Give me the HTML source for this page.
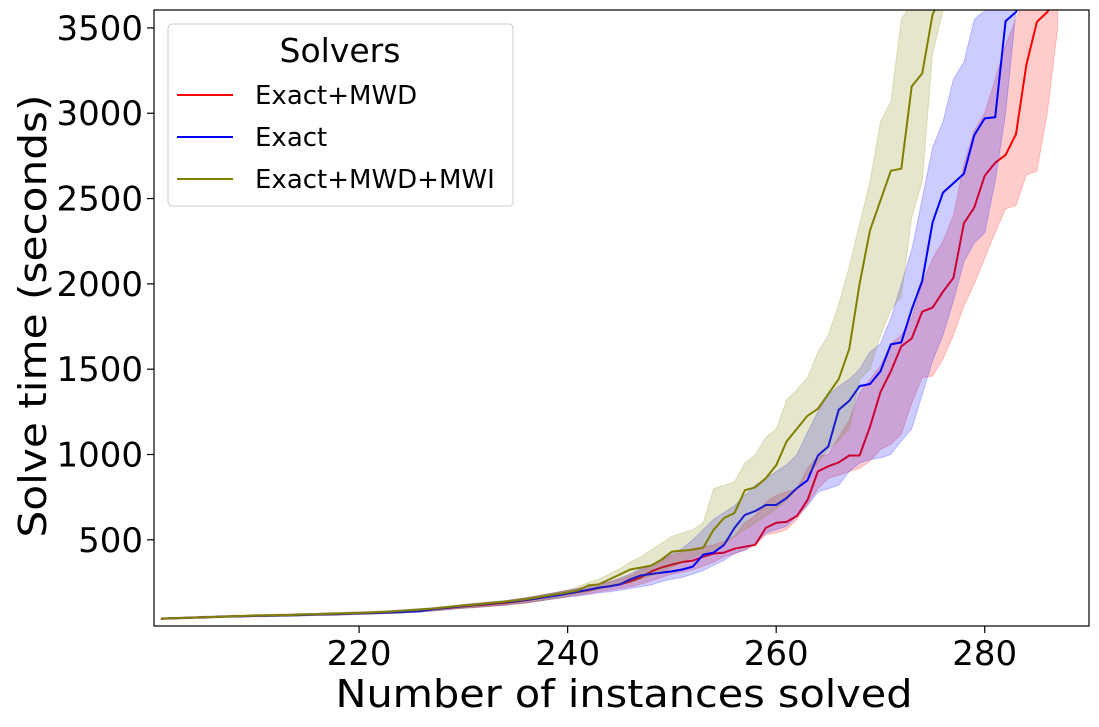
<!DOCTYPE html>
<html><head><meta charset="utf-8"><style>
html,body{margin:0;padding:0;background:#fff;}
svg{display:block;font-family:"DejaVu Sans","Liberation Sans",sans-serif;}
</style></head><body>
<svg id="chart" width="1099" height="727" viewBox="0 0 1099 727" xmlns="http://www.w3.org/2000/svg">
<defs><clipPath id="clip"><rect x="154" y="10" width="935" height="616"/></clipPath></defs>
<g id="plot" clip-path="url(#clip)"></g>
<rect x="154" y="10" width="935" height="616" fill="none" stroke="#000" stroke-width="1.2"/>
<g id="xticks"></g>
<g id="yticks"></g>
<text x="624" y="707" font-size="38" text-anchor="middle" textLength="577" lengthAdjust="spacingAndGlyphs">Number of instances solved</text>
<text transform="translate(46,316) rotate(-90)" font-size="38" text-anchor="middle" textLength="443" lengthAdjust="spacingAndGlyphs">Solve time (seconds)</text>
<g>
<rect x="168" y="24" width="345" height="182" rx="4" fill="#fff" fill-opacity="0.8" stroke="#ccc" stroke-width="1"/>
<text x="340" y="62" font-size="33" text-anchor="middle">Solvers</text>
<g><line x1="177" y1="95" x2="233" y2="95" stroke="#f00" stroke-width="2"/><text x="255" y="104" font-size="26">Exact+MWD</text></g>
<g><line x1="177" y1="137" x2="233" y2="137" stroke="#00f" stroke-width="2"/><text x="255" y="146" font-size="26">Exact</text></g>
<g><line x1="177" y1="179" x2="233" y2="179" stroke="#808000" stroke-width="2"/><text x="255" y="188" font-size="26">Exact+MWD+MWI</text></g>
</g>
</svg>
<script>
const xStart = 201;
const xTicks = [220, 240, 260, 280];
const yTicks = [500, 1000, 1500, 2000, 2500, 3000, 3500];
const common = [38,40,42,44,46,48,50,52,53,55,56,57,58,60,62,63,65,66,68,70,72,74,76,80,84,88,92,98,104,110,115,120,125,130,138,145,155,165,175,185];
const commonLo = [34,36,38,40,41,43,45,47,48,50,50,51,52,54,56,57,58,59,61,63,65,67,68,72,76,79,83,88,94,99,103,108,112,117,124,130,139,148,157,166];
const commonHi = [42,44,46,48,51,53,55,57,58,61,62,63,64,66,68,69,72,73,75,77,79,81,84,88,92,97,101,108,114,121,127,132,138,143,152,160,171,182,193,204];
const redLine = common.concat([195,205,218,228,239,256,279,314,338,355,370,378,401,419,425,448,460,471,570,600,605,640,733,901,931,954,994,994,1163,1366,1488,1634,1680,1837,1861,1954,2035,2355,2448,2634,2710,2756,2878,3285,3535,3593,3700]);
const redLow = commonLo.concat([175,185,196,205,215,225,240,260,280,300,310,325,345,370,400,420,440,470,530,540,560,620,710,800,860,880,900,920,960,1030,1060,1120,1300,1450,1460,1560,1700,1870,2000,2150,2300,2440,2460,2640,2660,3000,3500]);
const redHigh = commonHi.concat([215,228,240,252,270,290,320,350,380,410,430,450,460,470,490,520,600,640,720,760,780,800,920,990,1000,1100,1200,1360,1440,1520,1650,1700,1800,2000,2150,2250,2400,2700,2900,3000,3200,3400,3550,3700,3800,3900,4000]);
const blueLine = [38,40,42,44,46,48,50,51,52,54,55,56,57,58,60,62,63,65,67,69,70,72,74,76,78,82,92,100,106,112,118,124,130,135,140,148,156,165,174,184].concat([196,208,220,227,239,268,291,300,308,315,326,343,413,425,471,570,646,669,704,704,745,803,849,994,1047,1262,1314,1401,1413,1488,1645,1657,1850,2018,2360,2535,2590,2645,2872,2970,2977,3540,3593,3700]);
const blueLow = commonLo.concat([170,180,190,195,205,215,225,235,255,270,280,300,320,350,380,420,440,480,540,560,580,640,700,780,800,820,900,950,970,980,1000,1080,1150,1350,1550,1700,1900,2130,2240,2300,2600,3000,3600,3700]);
const blueHigh = commonHi.concat([215,228,240,255,275,300,330,350,380,420,450,500,560,620,660,700,760,820,860,900,940,1000,1130,1250,1350,1400,1440,1500,1600,1650,1800,2000,2200,2500,2800,2950,3200,3300,3550,3600,3700,3800,3900,4000]);
const oliveLine = [38,40,42,44,46,48,50,52,54,56,57,58,59,61,63,64,66,68,70,72,74,77,80,84,88,92,97,103,109,115,120,126,132,138,145,152,162,172,182,192].concat([204,233,239,268,297,326,337,349,384,431,437,442,454,559,628,657,791,808,861,937,1076,1152,1227,1268,1355,1442,1617,2000,2314,2489,2663,2675,3157,3233,3580,3700]);
const oliveLow = commonLo.concat([185,195,210,225,240,250,270,290,310,340,370,400,420,440,470,520,560,600,640,680,730,800,880,950,1030,1080,1150,1440,1500,1700,1850,1925,2390,2600,3350,3600]);
const oliveHigh = commonHi.concat([225,250,270,300,330,370,400,440,480,520,540,560,600,800,820,840,950,1000,1100,1150,1320,1380,1450,1600,1700,1880,2100,2350,2600,2950,3070,3550,3650,3700,3800,3900]);

const X0=154, X1=1089, Y0=626, Y1=10, XMIN=200.33, XMAX=290, YMIN=-5, YMAX=3605;
function sx(v){return X0+(v-XMIN)/(XMAX-XMIN)*(X1-X0);}
function sy(v){return Y0-(v-YMIN)/(YMAX-YMIN)*(Y0-Y1);}
const NS="http://www.w3.org/2000/svg";
const plot=document.getElementById('plot');
function band(lo,hi,color,name){
  let pts=[];
  for(let i=0;i<hi.length;i++) pts.push(sx(xStart+i).toFixed(1)+','+sy(hi[i]).toFixed(1));
  for(let i=lo.length-1;i>=0;i--) pts.push(sx(xStart+i).toFixed(1)+','+sy(lo[i]).toFixed(1));
  const p=document.createElementNS(NS,'polygon');
  p.setAttribute('points',pts.join(' '));
  p.setAttribute('fill',color);p.setAttribute('fill-opacity','0.2');
  p.setAttribute('stroke',color);p.setAttribute('stroke-opacity','0.2');
  
  
  plot.appendChild(p);
}
function line(vals,color,name){
  const pts=vals.map((v,i)=>sx(xStart+i).toFixed(1)+','+sy(v).toFixed(1));
  const p=document.createElementNS(NS,'polyline');
  p.setAttribute('points',pts.join(' '));
  p.setAttribute('fill','none');p.setAttribute('stroke',color);p.setAttribute('stroke-width','2');
  p.setAttribute('stroke-linejoin','round');
  
  
  plot.appendChild(p);
}
band(redLow,redHigh,'#ff0000','band-exact-mwd');
line(redLine,'#ff0000','line-exact-mwd');
band(blueLow,blueHigh,'#0000ff','band-exact');
line(blueLine,'#0000ff','line-exact');
band(oliveLow,oliveHigh,'#808000','band-exact-mwd-mwi');
line(oliveLine,'#808000','line-exact-mwd-mwi');

const xg=document.getElementById('xticks');
xTicks.forEach(t=>{
  const x=sx(t);
  const l=document.createElementNS(NS,'line');
  l.setAttribute('x1',x);l.setAttribute('x2',x);l.setAttribute('y1',626);l.setAttribute('y2',633);
  l.setAttribute('stroke','#000');l.setAttribute('stroke-width','1.2');
  
  
  xg.appendChild(l);
  const tx=document.createElementNS(NS,'text');
  tx.setAttribute('x',x);tx.setAttribute('y',665);tx.setAttribute('font-size','34');tx.setAttribute('text-anchor','middle');
  tx.textContent=t;
  
  
  xg.appendChild(tx);
});
const yg=document.getElementById('yticks');
yTicks.forEach(t=>{
  const y=sy(t);
  const l=document.createElementNS(NS,'line');
  l.setAttribute('x1',147);l.setAttribute('x2',154);l.setAttribute('y1',y);l.setAttribute('y2',y);
  l.setAttribute('stroke','#000');l.setAttribute('stroke-width','1.2');
  
  
  yg.appendChild(l);
  const tx=document.createElementNS(NS,'text');
  tx.setAttribute('x',143);tx.setAttribute('y',y+12);tx.setAttribute('font-size','34');tx.setAttribute('text-anchor','end');
  tx.textContent=t;
  
  
  yg.appendChild(tx);
});
</script>
</body></html>
